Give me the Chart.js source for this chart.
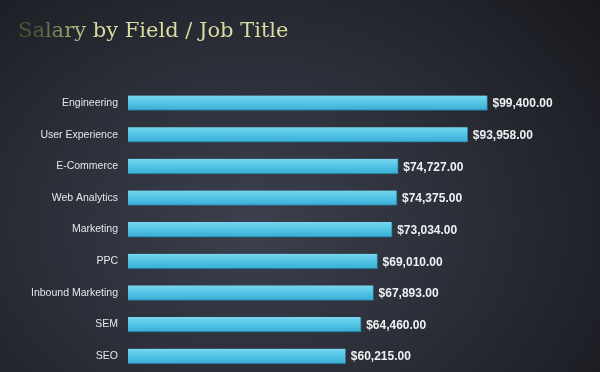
<!DOCTYPE html>
<html>
<head>
<meta charset="utf-8">
<title>Salary by Field / Job Title</title>
<script src="https://cdn.jsdelivr.net/npm/chart.js@4.4.1/dist/chart.umd.min.js"></script>
<style>
  html, body {
    margin: 0;
    padding: 0;
    width: 600px;
    height: 372px;
    overflow: hidden;
    background: radial-gradient(ellipse 75% 95% at 42% 60%, #3c404e 0%, #2c2f39 45%, #18191e 100%);
  }
  #wrap {
    position: relative;
    width: 600px;
    height: 372px;
  }
  canvas { display: block; }
</style>
</head>
<body>
<div id="wrap">
  <canvas id="salaryChart" width="600" height="372"></canvas>
</div>
<script>
const chartTitle = "Salary by Field / Job Title";
const fields = [
  "Engineering",
  "User Experience",
  "E-Commerce",
  "Web Analytics",
  "Marketing",
  "PPC",
  "Inbound Marketing",
  "SEM",
  "SEO",
];
const salaries = [99400, 93958, 74727, 74375, 73034, 69010, 67893, 64460, 60215];

const money = (v) =>
  v.toLocaleString("en-US", { style: "currency", currency: "USD" });

// values printed at the end of each bar
const valueLabels = {
  id: "valueLabels",
  afterDatasetsDraw(chart) {
    const ctx = chart.ctx;
    const meta = chart.getDatasetMeta(0);
    ctx.save();
    ctx.font = "bold 12px 'Liberation Sans', Arial, sans-serif";
    ctx.fillStyle = "#eef0f2";
    ctx.textBaseline = "middle";
    ctx.textAlign = "left";
    meta.data.forEach((bar, i) => {
      ctx.fillText(money(salaries[i]), bar.x + 5, bar.y + 1);
    });
    ctx.restore();
  },
};

function barFill(context) {
  const chart = context.chart;
  const yScale = chart.scales.y;
  if (!yScale || context.dataIndex === undefined) return "#55c4e3";
  const y = yScale.getPixelForValue(context.dataIndex);
  if (!isFinite(y)) return "#55c4e3";
  const g = chart.ctx.createLinearGradient(0, y - 8, 0, y + 8);
  g.addColorStop(0, "#7ad8f0");
  g.addColorStop(0.5, "#52c4e5");
  g.addColorStop(1, "#37abd2");
  return g;
}

function titleFill(context) {
  const g = context.chart.ctx.createLinearGradient(18, 0, 78, 0);
  g.addColorStop(0, "#4c5538");
  g.addColorStop(1, "#d6dd9e");
  return g;
}

new Chart(document.getElementById("salaryChart"), {
  type: "bar",
  data: {
    labels: fields,
    datasets: [
      {
        data: salaries,
        backgroundColor: barFill,
        borderColor: "#25799a",
        borderWidth: { top: 0, left: 0, right: 1, bottom: 1 },
        borderSkipped: false,
        barThickness: 15,
      },
    ],
  },
  options: {
    indexAxis: "y",
    responsive: false,
    animation: false,
    layout: { padding: { left: 18, right: 0, top: 0, bottom: 0 } },
    plugins: {
      legend: { display: false },
      tooltip: { enabled: false },
      title: {
        display: true,
        text: chartTitle,
        align: "start",
        color: titleFill,
        font: { family: "'DejaVu Serif', serif", size: 21, weight: "normal" },
        padding: { top: 19, bottom: 43 },
      },
    },
    scales: {
      x: {
        display: false,
        min: 0,
        max: 130500,
      },
      y: {
        grid: { display: false, drawTicks: false },
        border: { display: false },
        ticks: {
          color: "#e4e6ea",
          padding: 10,
          font: { family: "'Liberation Sans', Arial, sans-serif", size: 10.5 },
        },
        afterFit(scale) {
          scale.width = 110;
          // let the bars run to the bottom edge like the original
          scale.paddingTop = 0;
          scale.paddingBottom = 0;
        },
      },
    },
  },
  plugins: [valueLabels],
});
</script>
</body>
</html>
